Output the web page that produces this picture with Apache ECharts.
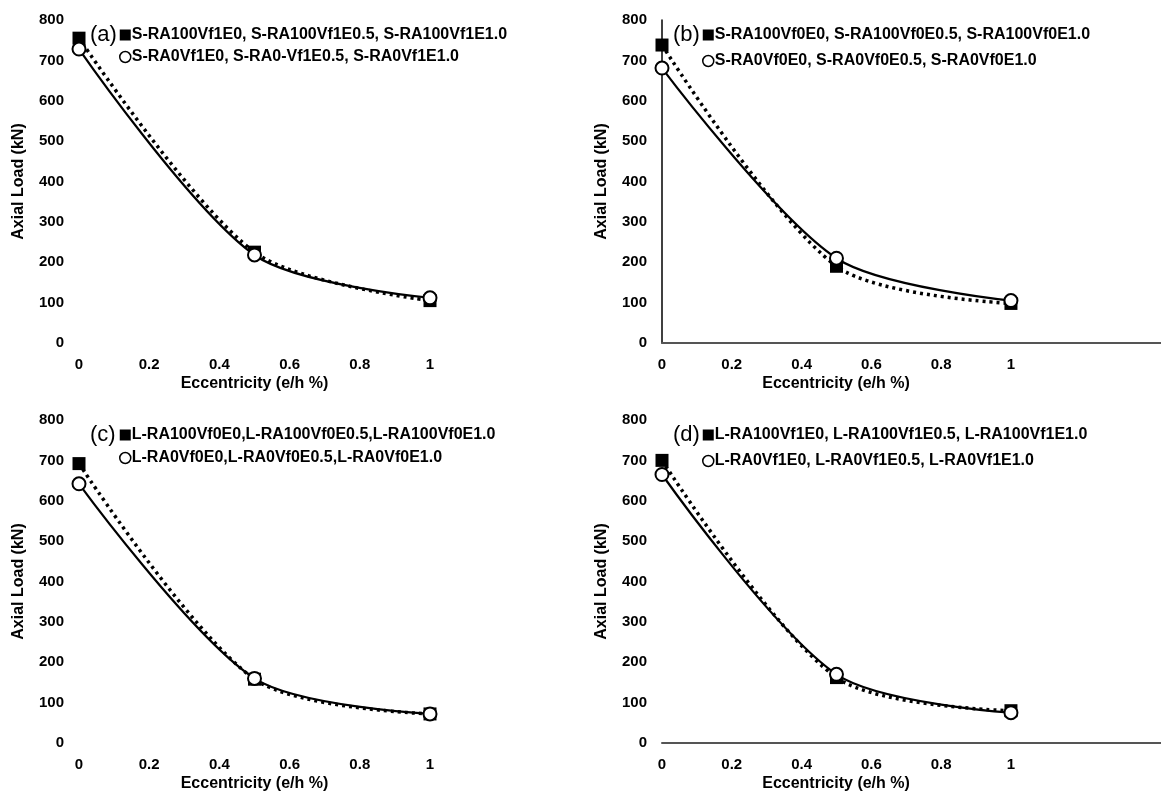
<!DOCTYPE html>
<html>
<head>
<meta charset="utf-8">
<script src="https://cdn.jsdelivr.net/npm/echarts@6/dist/echarts.min.js"></script>
<style>
  html, body { margin: 0; padding: 0; background: #fff; }
  #chart { width: 1161px; height: 800px; }
</style>
</head>
<body>
<div id="chart"></div>
<script>
// Eccentricity levels tested (e/h)
const eccentricity = [0, 0.5, 1];
const xTickLabels = [0, 0.2, 0.4, 0.6, 0.8, 1];

// Axial load capacity (kN) for each specimen group
const panelLabels = ['(a)', '(b)', '(c)', '(d)'];
const legendRA100 = [
  'S-RA100Vf1E0, S-RA100Vf1E0.5, S-RA100Vf1E1.0',
  'S-RA100Vf0E0, S-RA100Vf0E0.5, S-RA100Vf0E1.0',
  'L-RA100Vf0E0,L-RA100Vf0E0.5,L-RA100Vf0E1.0',
  'L-RA100Vf1E0, L-RA100Vf1E0.5, L-RA100Vf1E1.0'
];
const legendRA0 = [
  'S-RA0Vf1E0, S-RA0-Vf1E0.5, S-RA0Vf1E1.0',
  'S-RA0Vf0E0, S-RA0Vf0E0.5, S-RA0Vf0E1.0',
  'L-RA0Vf0E0,L-RA0Vf0E0.5,L-RA0Vf0E1.0',
  'L-RA0Vf1E0, L-RA0Vf1E0.5, L-RA0Vf1E1.0'
];
const loadRA100_a = [755, 225, 105];
const loadRA0_a   = [728, 218, 112];
const loadRA100_b = [738, 190, 98];
const loadRA0_b   = [681, 210, 105];
const loadRA100_c = [692, 158, 72];
const loadRA0_c   = [642, 160, 72];
const loadRA100_d = [700, 162, 80];
const loadRA0_d   = [665, 170, 75];

const loadsRA100 = [loadRA100_a, loadRA100_b, loadRA100_c, loadRA100_d];
const loadsRA0 = [loadRA0_a, loadRA0_b, loadRA0_c, loadRA0_d];

// Layout
const X_MAX = 1.43;
const PX_PER_UNIT = 351;
const GRID_W = X_MAX * PX_PER_UNIT;
const GRID_H = 323;
const gridLeft = [79, 662, 79, 662];
const gridTop = [20, 20, 420, 420];
const showXLine = [false, true, false, true];
const showYLine = [false, true, false, false];
const legendGap = [6, 10, 7, 10];
const SMOOTH = 0.3;

const FONT = '"Liberation Sans", Arial, sans-serif';

const option = {
  animation: false,
  backgroundColor: '#fff',
  title: [], grid: [], xAxis: [], yAxis: [], legend: [], series: []
};

for (let i = 0; i < 4; i++) {
  option.title.push({
    text: panelLabels[i],
    left: gridLeft[i] + 11,
    top: gridTop[i] + 4,
    padding: 0,
    textStyle: { fontFamily: FONT, fontSize: 22, fontWeight: 'normal', color: '#000' }
  });
  option.grid.push({
    left: gridLeft[i], top: gridTop[i], width: GRID_W, height: GRID_H,
    containLabel: false
  });
  option.xAxis.push({
    type: 'value', gridIndex: i, min: 0, max: X_MAX,
    name: 'Eccentricity (e/h %)',
    nameLocation: 'middle', nameGap: 33,
    nameTextStyle: {
      fontFamily: FONT, fontSize: 16, fontWeight: 'bold', color: '#000',
      // shift the title so it centres over the 0–1 range
      padding: [0, (X_MAX - 1) * PX_PER_UNIT, 0, 0]
    },
    axisLine: { show: showXLine[i], onZero: false, lineStyle: { color: '#555', width: 2 } },
    axisTick: { show: false },
    splitLine: { show: false },
    axisLabel: {
      customValues: xTickLabels,
      margin: 14,
      fontFamily: FONT, fontSize: 15, fontWeight: 'bold', color: '#000'
    }
  });
  option.yAxis.push({
    type: 'value', gridIndex: i, min: 0, max: 800, interval: 100,
    name: 'Axial Load (kN)',
    nameLocation: 'middle', nameGap: 52, nameRotate: 90,
    nameTextStyle: { fontFamily: FONT, fontSize: 16, fontWeight: 'bold', color: '#000' },
    axisLine: { show: showYLine[i], lineStyle: { color: '#000', width: 1.5 } },
    axisTick: { show: false },
    splitLine: { show: false },
    axisLabel: { margin: 15, fontFamily: FONT, fontSize: 15, fontWeight: 'bold', color: '#000' }
  });
  option.legend.push({
    orient: 'vertical',
    left: gridLeft[i] + 40,
    top: gridTop[i] + 7,
    padding: 0,
    itemGap: legendGap[i],
    itemWidth: 11, itemHeight: 11,
    textStyle: { fontFamily: FONT, fontSize: 16, fontWeight: 'bold', color: '#000', padding: [0, 0, 0, -4] },
    data: [
      { name: legendRA100[i], icon: 'rect', itemStyle: { color: '#000' } },
      { name: legendRA0[i], icon: 'circle', itemStyle: { color: '#fff', borderColor: '#000', borderWidth: 1.5 } }
    ]
  });
  option.series.push({
    name: legendRA100[i], type: 'line', xAxisIndex: i, yAxisIndex: i,
    data: eccentricity.map((e, k) => [e, loadsRA100[i][k]]),
    smooth: SMOOTH,
    symbol: 'rect', symbolSize: 13,
    itemStyle: { color: '#000' },
    lineStyle: { color: '#000', width: 3.5, type: [3, 4] }
  });
  option.series.push({
    name: legendRA0[i], type: 'line', xAxisIndex: i, yAxisIndex: i,
    data: eccentricity.map((e, k) => [e, loadsRA0[i][k]]),
    smooth: SMOOTH,
    symbol: 'circle', symbolSize: 13,
    itemStyle: { color: '#fff', borderColor: '#000', borderWidth: 2 },
    lineStyle: { color: '#000', width: 2.2, type: 'solid' }
  });
}

const chart = echarts.init(document.getElementById('chart'), null, { renderer: 'canvas' });
chart.setOption(option);
</script>
</body>
</html>
